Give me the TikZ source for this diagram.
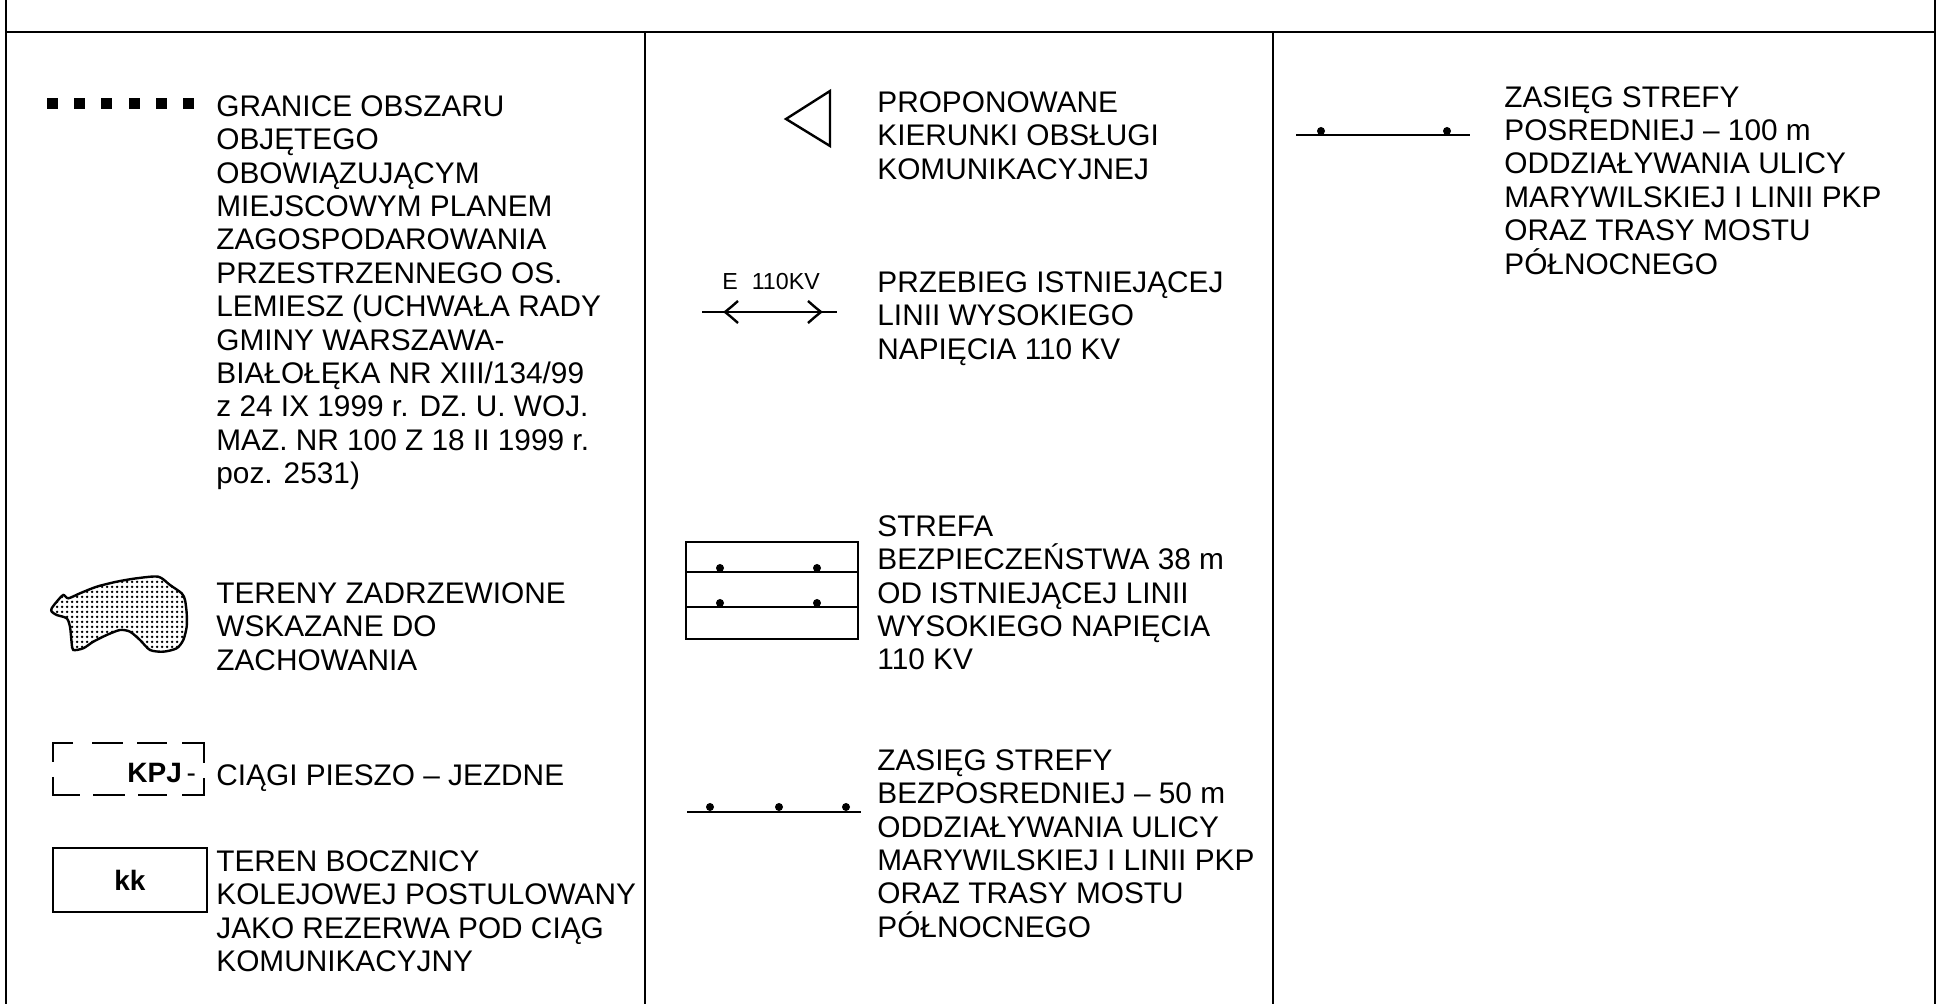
\documentclass[tikz,border=0pt]{standalone}
\usepackage{fontspec}
\setmainfont{Liberation Sans}
\usetikzlibrary{patterns}
\newcommand\legfont{\fontsize{14.9pt}{16.7pt}\selectfont}
\newcommand\smallfont{\fontsize{11.6pt}{13pt}\selectfont}
\newcommand\boldfont{\fontsize{14pt}{16pt}\selectfont\bfseries}
\pgfdeclarepatternformonly{treedots}{\pgfqpoint{0pt}{0pt}}{\pgfqpoint{2.5pt}{2.5pt}}{\pgfqpoint{2.5pt}{2.5pt}}{\pgfpathcircle{\pgfqpoint{1.25pt}{1.25pt}}{0.78pt}\pgfusepath{fill}}
\begin{document}
\begin{tikzpicture}[x=0.5pt,y=-0.5pt,
  frame/.style={line width=1.1pt},
  sym/.style={line width=1.2pt},
  leg/.style={anchor=north west,inner sep=0pt,align=left,font=\legfont},
  dotmark/.style={circle,fill=black,inner sep=0pt,minimum size=4pt}]
\useasboundingbox (0,0) rectangle (1945,1004);
\fill[white] (0,0) rectangle (1945,1004);
% frame
\coordinate (tl) at (6,0);
\coordinate (bl) at (6,1004);
\coordinate (tr) at (1935,0);
\coordinate (br) at (1935,1004);
\coordinate (hl) at (6,32);
\coordinate (hr) at (1935,32);
\coordinate (d1t) at (645,32);
\coordinate (d1b) at (645,1004);
\coordinate (d2t) at (1273,32);
\coordinate (d2b) at (1273,1004);
\draw[frame] (tl) -- (bl);
\draw[frame] (tr) -- (br);
\draw[frame] (hl) -- (hr);
\draw[frame] (d1t) -- (d1b);
\draw[frame] (d2t) -- (d2b);

% ---------- column 1 ----------
\foreach \i in {0,...,5} \fill (47+\i*27.2,98) rectangle ++(11,11);
\node[leg] (granice) at (216,95) {GRANICE OBSZARU\\OBJĘTEGO\\OBOWIĄZUJĄCYM\\MIEJSCOWYM PLANEM\\ZAGOSPODAROWANIA\\PRZESTRZENNEGO OS.\\LEMIESZ (UCHWAŁA RADY\\GMINY WARSZAWA-\\BIAŁOŁĘKA NR XIII/134/99\\z 24 IX 1999 r. DZ. U. WOJ.\\MAZ. NR 100 Z 18 II 1999 r.\\poz. 2531)};

\draw[sym, pattern=treedots] plot[smooth cycle, tension=0.45] coordinates {
 (51.7,608.3) (56.7,601.7) (63.3,595) (68.3,598.3) (80,593.3) (96.7,586.7)
 (116.7,581.7) (136.7,578.3) (158.3,576.7) (170,585) (181.7,593.3) (185,600)
 (186.7,613.3) (186.7,626.7) (183.3,640) (176.7,648.3) (163.3,651.7) (150,650)
 (140,640) (130,631.7) (120,630) (106.7,635) (93.3,641.7) (83.3,648.3)
 (73.3,650) (71.7,643.3) (70,626.7) (66.7,618.3) (56.7,615) (51.7,611.7)};
\node[leg] (tereny) at (216,582) {TERENY ZADRZEWIONE\\WSKAZANE DO\\ZACHOWANIA};

% KPJ dashed box
\draw[sym] (73,743) -- (53,743) -- (53,762);
\draw[sym] (53,777) -- (53,795) -- (80,795);
\draw[sym] (92,743) -- (123,743);
\draw[sym] (137,743) -- (167,743);
\draw[sym] (182,743) -- (204,743) -- (204,763);
\draw[sym] (93,795) -- (125,795);
\draw[sym] (138,795) -- (167,795);
\draw[sym] (182,795) -- (204,795) -- (204,778);
\node[anchor=west,inner sep=0pt,font=\boldfont] (kpj) at (127,773) {KPJ\,\mdseries-};
\node[leg] (ciagi) at (216,764) {CIĄGI PIESZO – JEZDNE};

% kk box
\node[draw,sym,minimum width=77pt,minimum height=32pt,inner sep=0pt,font=\boldfont] (kk) at (130,880) {kk};
\node[leg] (teren) at (216,850) {TEREN BOCZNICY\\KOLEJOWEJ POSTULOWANY\\JAKO REZERWA POD CIĄG\\KOMUNIKACYJNY};

% ---------- column 2 ----------
\draw[sym,line join=miter] (786,119) -- (830,91) -- (830,146) -- cycle;
\node[leg] (propon) at (877,91) {PROPONOWANE\\KIERUNKI OBSŁUGI\\KOMUNIKACYJNEJ};

\node[anchor=base west,inner sep=0pt,font=\smallfont] (e110) at (722,290) {E\hspace{0.6em}110KV};
\coordinate (la) at (702,312);
\coordinate (lb) at (837,312);
\draw[sym] (la) -- (lb);
\draw[sym] (738,301) .. controls (730,308) .. (725,312) .. controls (730,316) .. (738,323);
\draw[sym] (808,301) .. controls (816,308) .. (821,312) .. controls (816,316) .. (808,323);
\node[leg] (przebieg) at (877,271) {PRZEBIEG ISTNIEJĄCEJ\\LINII WYSOKIEGO\\NAPIĘCIA 110 KV};

\draw[sym] (686,542) rectangle (858,639);
\draw[sym] (686,572) -- (858,572);
\draw[sym] (686,607) -- (858,607);
\node[dotmark] at (720,568) {};
\node[dotmark] at (817,568) {};
\node[dotmark] at (720,603) {};
\node[dotmark] at (817,603) {};
\node[leg] (strefa) at (877,515) {STREFA\\BEZPIECZEŃSTWA 38 m\\OD ISTNIEJĄCEJ LINII\\WYSOKIEGO NAPIĘCIA\\110 KV};

\draw[sym] (687,812) -- (861,812);
\node[dotmark] at (710,807) {};
\node[dotmark] at (779,807) {};
\node[dotmark] at (846,807) {};
\node[leg] (zasieg50) at (877,749) {ZASIĘG STREFY\\BEZPOSREDNIEJ – 50 m\\ODDZIAŁYWANIA ULICY\\MARYWILSKIEJ I LINII PKP\\ORAZ TRASY MOSTU\\PÓŁNOCNEGO};

% ---------- column 3 ----------
\draw[sym] (1296,135) -- (1470,135);
\node[dotmark] at (1321,131) {};
\node[dotmark] at (1447,131) {};
\node[leg] (zasieg100) at (1504,86) {ZASIĘG STREFY\\POSREDNIEJ – 100 m\\ODDZIAŁYWANIA ULICY\\MARYWILSKIEJ I LINII PKP\\ORAZ TRASY MOSTU\\PÓŁNOCNEGO};
\end{tikzpicture}
\end{document}
